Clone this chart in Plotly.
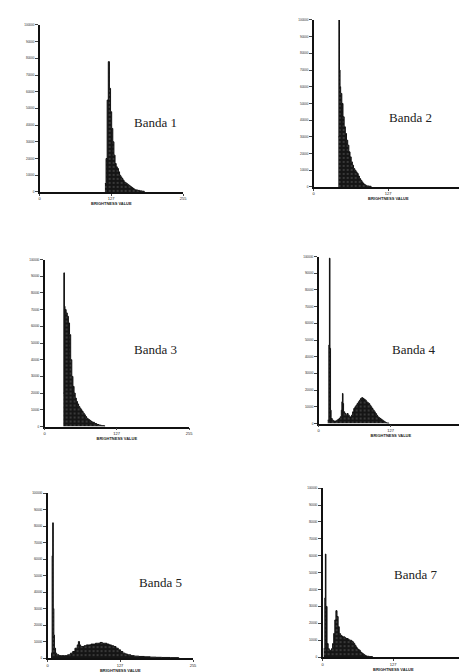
import plotly.graph_objects as go

# ---- data: brightness value (DN) and pixel count ----
b1_x = [116, 118, 120, 122, 124, 126, 128, 130, 132, 134, 136, 138, 140, 142, 144, 146, 148, 150,
        152, 154, 156, 158, 160, 162, 164, 166, 168, 170, 174, 178, 182, 186]
b1_y = [5000, 20000, 55000, 78000, 62000, 48000, 38000, 30000, 22000, 17000, 15000, 14000, 12000,
        10000, 9000, 8000, 7000, 6000, 5500, 5000, 4500, 4000, 3500, 3000, 2500, 2000, 1500, 1200,
        900, 600, 400, 0]

b2_x = [42, 43, 44, 45, 46, 48, 50, 52, 54, 56, 58, 60, 62, 64, 66, 68, 70, 72, 74, 76, 78, 80,
        82, 84, 86, 88, 90, 94, 98]
b2_y = [30000, 100000, 70000, 60000, 56000, 50000, 42000, 36000, 32000, 28000, 25000, 21000, 18000,
        15000, 13000, 11000, 10000, 9000, 8000, 6500, 5000, 4000, 3000, 2000, 1500, 1000, 600, 400, 0]

b3_x = [33, 34, 35, 36, 38, 40, 42, 44, 46, 48, 50, 52, 54, 56, 58, 60, 62, 64, 66, 68, 70, 72,
        74, 76, 78, 80, 82, 84, 88, 92, 96, 100, 106]
b3_y = [20000, 92000, 72000, 70000, 68000, 66000, 62000, 55000, 40000, 30000, 24000, 20000, 17000,
        15000, 13500, 12000, 11000, 10000, 9000, 8000, 7000, 6000, 5000, 4500, 4000, 3500, 3000,
        2500, 1800, 1200, 800, 500, 0]

b4_x = [16, 18, 19, 20, 21, 22, 24, 26, 28, 30, 32, 34, 36, 38, 40, 41, 42, 43, 44, 46, 48, 50,
        52, 54, 56, 58, 60, 62, 64, 66, 68, 70, 72, 74, 76, 78, 80, 82, 84, 86, 88, 90, 92, 94, 96,
        98, 100, 102, 104, 106, 108, 110, 112, 114, 116, 118, 120, 124]
b4_y = [2000, 47000, 99000, 45000, 8000, 3000, 2000, 1500, 1500, 1500, 2000, 2500, 3000, 4000,
        8000, 13000, 18000, 12000, 7000, 6000, 5000, 6000, 5000, 4000, 4000, 5000, 7000, 9000,
        10000, 11000, 12000, 13000, 14000, 15000, 15500, 15000, 14500, 14000, 13000, 12500, 12000,
        11000, 10000, 9000, 8000, 7000, 6000, 5000, 4000, 3500, 3000, 2500, 2000, 1500, 1000, 600,
        300, 0]

b5_x = [6, 8, 9, 10, 11, 12, 14, 16, 20, 25, 30, 35, 40, 44, 48, 52, 54, 56, 58, 60, 64, 68, 72,
        76, 80, 84, 88, 92, 96, 100, 104, 108, 112, 116, 120, 124, 128, 132, 136, 140, 146, 152,
        160, 170, 180, 190, 200, 215, 230]
b5_y = [3000, 62000, 82000, 30000, 14000, 6000, 3000, 2000, 1500, 1500, 1500, 2000, 3000, 4000,
        6000, 8000, 10000, 8000, 7000, 7000, 7500, 8000, 8000, 8500, 8500, 9000, 9000, 9500, 9000,
        9000, 8500, 8000, 7500, 7000, 6000, 5000, 4000, 3000, 2500, 2000, 1500, 1200, 1000, 800,
        600, 500, 400, 300, 0]

b7_x = [2, 4, 5, 6, 8, 10, 12, 14, 16, 18, 20, 22, 24, 26, 28, 30, 32, 34, 36, 38, 40, 42, 44, 46,
        48, 50, 52, 54, 56, 58, 60, 62, 64, 66, 68, 70, 72, 74, 76, 78, 80, 84, 90]
b7_y = [5000, 35000, 61000, 30000, 8000, 5000, 4000, 4000, 5000, 8000, 14000, 22000, 27500, 24000,
        18000, 14000, 13000, 12500, 12000, 12000, 11500, 11000, 11000, 10500, 10000, 10000, 9500,
        9000, 8000, 7000, 6000, 5000, 4500, 4000, 3000, 2500, 2000, 1500, 1000, 700, 500, 300, 0]

panel_names = ["Banda 1", "Banda 2", "Banda 3", "Banda 4", "Banda 5", "Banda 7"]
series = [(b1_x, b1_y), (b2_x, b2_y), (b3_x, b3_y), (b4_x, b4_y), (b5_x, b5_y), (b7_x, b7_y)]

y_ticks = [0, 10000, 20000, 30000, 40000, 50000, 60000, 70000, 80000, 90000, 100000]
x_ticks = [0, 127, 255]
x_title = "BRIGHTNESS VALUE"

W, H = 467, 672
# plot-area pixel boxes (left, right, top, bottom)
boxes = [(31, 176, 15, 183), (308, 459, 10, 178),
         (36, 182, 251, 419), (313, 459, 248, 416),
         (39, 186, 486, 652), (317, 460, 481, 651)]
label_pos = [(148, 113), (406, 108), (148, 342), (409, 342), (153, 576), (411, 568)]

fig = go.Figure()
for i, ((xs, ys), (l, r, t, b)) in enumerate(zip(series, boxes)):
    n = "" if i == 0 else str(i + 1)
    fig.add_trace(go.Scatter(
        x=xs, y=ys, mode="lines", line=dict(color="#111111", width=1, shape="hv"),
        fill="tozeroy", fillcolor="#151515",
        fillpattern=dict(shape=".", fgcolor="#dddddd", bgcolor="#151515", size=4, solidity=0.08),
        xaxis="x" + n, yaxis="y" + n, showlegend=False, hoverinfo="skip"))
    fig.layout["xaxis" + n] = dict(
        domain=[l / W, r / W], range=[0, 255], anchor="y" + n,
        tickvals=x_ticks, ticktext=[str(v) for v in x_ticks], ticks="outside", ticklen=2,
        tickfont=dict(size=4, color="#222", family="Liberation Sans"),
        showline=True, linecolor="#111", linewidth=1.5, showgrid=False, zeroline=False,
        title=dict(text="<b>" + x_title + "</b>",
                   font=dict(size=4, color="#222", family="Liberation Sans"), standoff=2))
    fig.layout["yaxis" + n] = dict(
        domain=[1 - b / H, 1 - t / H], range=[0, 100000], anchor="x" + n,
        tickvals=y_ticks, ticktext=[str(v) for v in y_ticks], ticks="outside", ticklen=3,
        tickfont=dict(size=3, color="#222", family="Liberation Sans"),
        showline=True, linecolor="#111", linewidth=1.5, showgrid=False, zeroline=False)
    fig.add_annotation(text=panel_names[i], x=label_pos[i][0] / W, y=1 - label_pos[i][1] / H,
                       xref="paper", yref="paper", xanchor="center", yanchor="middle",
                       showarrow=False,
                       font=dict(size=13, color="#222", family="Liberation Serif"))

fig.update_layout(width=W, height=H, margin=dict(l=0, r=0, t=0, b=0),
                  paper_bgcolor="white", plot_bgcolor="white")
fig.write_html("out.html")
